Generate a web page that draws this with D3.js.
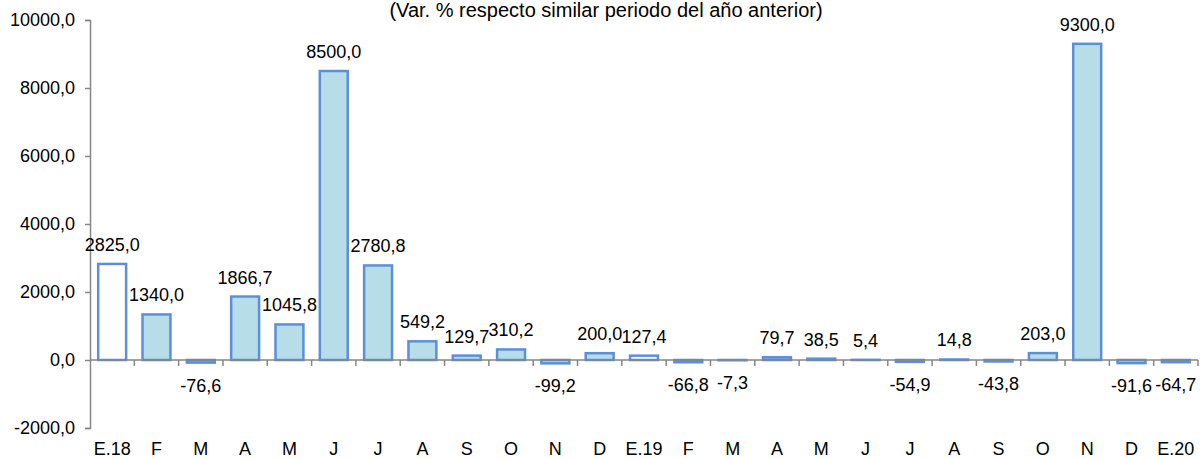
<!DOCTYPE html>
<html>
<head>
<meta charset="utf-8">
<script src="https://cdn.jsdelivr.net/npm/d3@7"></script>
<style>
  body { margin: 0; background: #fff; }
  svg { display: block; font-family: "Liberation Sans", Arial, sans-serif; }
</style>
</head>
<body>
<svg id="chart" width="1200" height="459"></svg>
<script>
// months (E = enero)
var months = ["E.18","F","M","A","M","J","J","A","S","O","N","D",
              "E.19","F","M","A","M","J","J","A","S","O","N","D","E.20"];
var values = [2825.0, 1340.0, -76.6, 1866.7, 1045.8, 8500.0, 2780.8, 549.2, 129.7, 310.2, -99.2, 200.0,
              127.4, -66.8, -7.3, 79.7, 38.5, 5.4, -54.9, 14.8, -43.8, 203.0, 9300.0, -91.6, -64.7];
var yTicks = [-2000, 0, 2000, 4000, 6000, 8000, 10000];
var title = "(Var. % respecto similar periodo del año anterior)";

var svg = d3.select("#chart");
// comma decimals, plain hyphen for negatives
var fmt = function(v) { return d3.format(".1f")(v).replace(".", ",").replace("\u2212", "-"); };

var x = d3.scaleBand()
    .domain(d3.range(months.length))
    .range([90, 1198])
    .paddingInner(0.37)
    .paddingOuter(0.185);

var y = d3.scaleLinear().domain([-2000, 10000]).range([428, 20]);

svg.append("text")
    .attr("x", 606).attr("y", 17)
    .attr("text-anchor", "middle")
    .attr("font-size", 20)
    .attr("fill", "#000")
    .text(title);

// y axis
var yAxis = svg.append("g")
    .attr("transform", "translate(90,0)")
    .call(d3.axisLeft(y).tickValues(yTicks).tickFormat(fmt).tickSize(5).tickPadding(10));
yAxis.select(".domain").attr("stroke", "#868686").attr("stroke-width", 1.5);
yAxis.selectAll(".tick line").attr("stroke", "#868686").attr("stroke-width", 1.5);
yAxis.selectAll(".tick text").attr("font-size", 18).attr("fill", "#000")
    .attr("font-family", "Liberation Sans, Arial, sans-serif");

// bars
svg.append("g").selectAll("rect")
    .data(values)
    .enter().append("rect")
    .attr("x", function(d, i) { return x(i); })
    .attr("width", x.bandwidth())
    .attr("y", function(d) { return y(Math.max(0, d)); })
    .attr("height", function(d) { return Math.abs(y(d) - y(0)); })
    .attr("fill", function(d, i) { return months[i].indexOf("E.") === 0 ? "#ffffff" : "#b7dde8"; })
    .attr("stroke", "#5b8fd9")
    .attr("stroke-width", 2.5);

// zero axis with ticks between categories
var step = x.step();
var xs = d3.range(months.length + 1).map(function(i) { return 90 + i * step; });
svg.append("line")
    .attr("x1", 90).attr("x2", 1198)
    .attr("y1", y(0)).attr("y2", y(0))
    .attr("stroke", "#868686").attr("stroke-width", 1.5);
svg.append("g").selectAll("line")
    .data(xs.slice(1))
    .enter().append("line")
    .attr("x1", function(d) { return d; }).attr("x2", function(d) { return d; })
    .attr("y1", y(0)).attr("y2", y(0) + 6)
    .attr("stroke", "#868686").attr("stroke-width", 1.5);

// value labels
svg.append("g").selectAll("text")
    .data(values)
    .enter().append("text")
    .attr("x", function(d, i) { return x(i) + x.bandwidth() / 2; })
    .attr("y", function(d) { return d >= 0 ? y(d) - 13 : y(d) + 29; })
    .attr("text-anchor", "middle")
    .attr("font-size", 18)
    .attr("fill", "#000")
    .text(fmt);

// category labels
svg.append("g").selectAll("text")
    .data(months)
    .enter().append("text")
    .attr("x", function(d, i) { return x(i) + x.bandwidth() / 2; })
    .attr("y", 455)
    .attr("text-anchor", "middle")
    .attr("font-size", 18)
    .attr("fill", "#000")
    .text(function(d) { return d; });
</script>
</body>
</html>
